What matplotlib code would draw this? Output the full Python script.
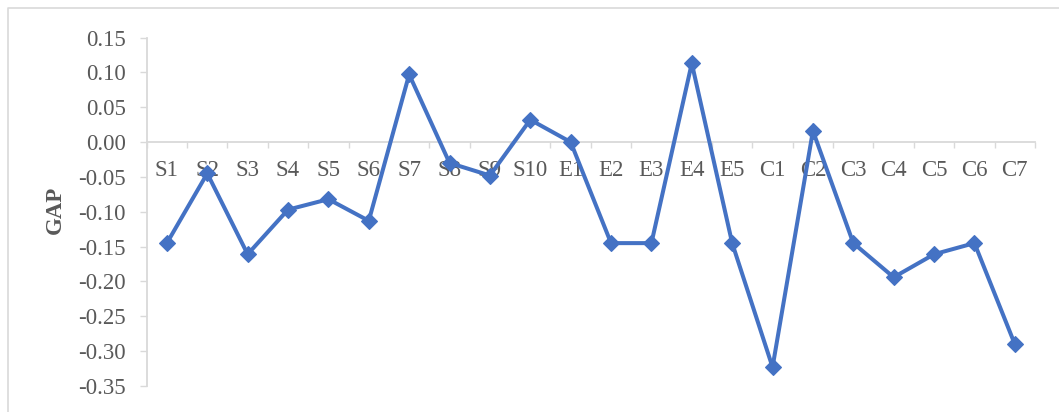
import matplotlib
matplotlib.use("Agg")
import matplotlib.pyplot as plt
from matplotlib.lines import Line2D
import numpy as np

categories = ["S1", "S2", "S3", "S4", "S5", "S6", "S7", "S8", "S9", "S10",
              "E1", "E2", "E3", "E4", "E5",
              "C1", "C2", "C3", "C4", "C5", "C6", "C7"]
gap = [-0.145, -0.045, -0.161, -0.097, -0.082, -0.113, 0.097, -0.030, -0.048, 0.032,
       0.000, -0.145, -0.145, 0.113, -0.145,
       -0.323, 0.016, -0.145, -0.194, -0.161, -0.145, -0.290]
y_ticks = [0.15, 0.10, 0.05, 0.00, -0.05, -0.10, -0.15, -0.20, -0.25, -0.30, -0.35]

W, H = 1059, 412
fig = plt.figure(figsize=(W / 100, H / 100), dpi=100)
ax = fig.add_axes([146.7 / W, 1 - 386 / H, (1035 - 146.7) / W, (386 - 37.5) / H])

serif = ["Liberation Serif", "DejaVu Serif"]
grey_txt = "#595959"
grey_ln = "#D9D9D9"
blue = "#4472C4"

x = np.arange(len(categories))
ax.plot(x, gap, color=blue, lw=2.9, marker="D", ms=8.5, mew=0.8,
        mfc=blue, mec=blue, solid_joinstyle="miter", zorder=3, clip_on=False)

ax.set_xlim(-0.5, len(categories) - 0.5)
ax.set_ylim(-0.35, 0.15)

# y axis
ax.set_yticks(y_ticks)
ax.set_yticklabels([f"{v:.2f}" for v in y_ticks], fontfamily=serif, fontsize=16.5, color=grey_txt)
ax.tick_params(axis="y", direction="out", length=5, width=1, color=grey_ln, pad=10)

# x axis on the zero line, ticks on category boundaries
ax.spines["bottom"].set_position(("data", 0))
ax.set_xticks(np.arange(-0.5, len(categories), 1.0))
ax.set_xticklabels([])
ax.tick_params(axis="x", direction="out", length=4, width=1, color=grey_ln)
ax.set_xticks(x, minor=True)
ax.set_xticklabels(categories, minor=True, fontfamily=serif, fontsize=16.5, color=grey_txt)
ax.tick_params(axis="x", which="minor", length=0, pad=13)

for s in ("top", "right"):
    ax.spines[s].set_visible(False)
for s in ("left", "bottom"):
    ax.spines[s].set_color(grey_ln)
    ax.spines[s].set_linewidth(1.3)

fig.text(55 / W, 1 - 210 / H, "GAP", rotation=90, ha="center", va="center",
         fontfamily=serif, fontsize=16.5, fontweight="bold", color=grey_txt)

# chart frame
fig.add_artist(Line2D([7.5 / W, 7.5 / W, 1.0], [0.0, 1 - 8 / H, 1 - 8 / H],
                      transform=fig.transFigure, color=grey_ln, lw=1.2))

fig.savefig("out.png", dpi=100)
